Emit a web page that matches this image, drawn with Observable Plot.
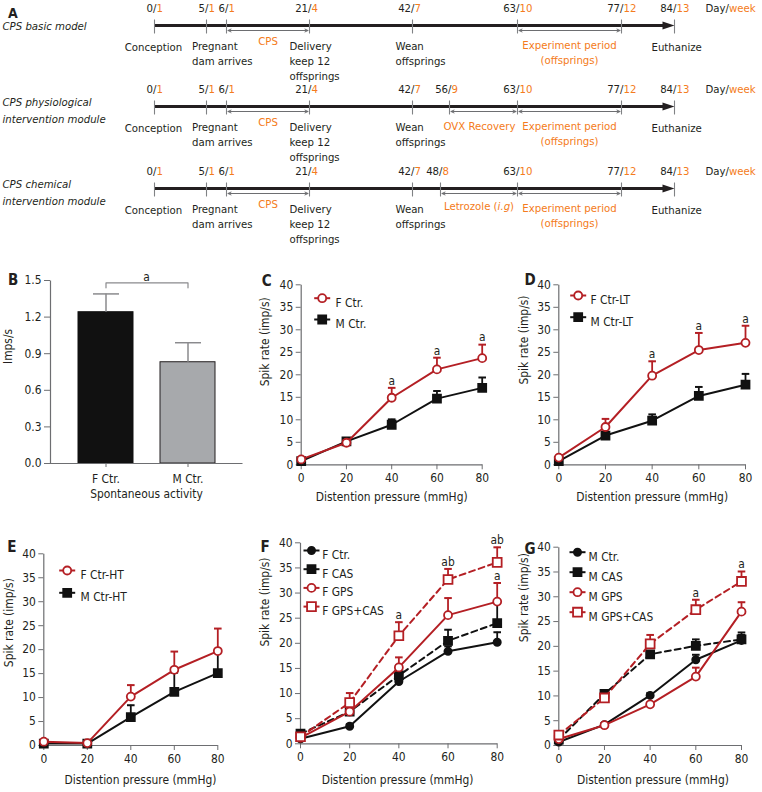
<!DOCTYPE html>
<html><head><meta charset="utf-8">
<script src="https://cdn.jsdelivr.net/npm/d3@7"></script>
<script src="https://cdn.jsdelivr.net/npm/@observablehq/plot@0.6"></script>
<style>
html,body{margin:0;padding:0;background:#fff;}
#fig{position:relative;width:762px;height:792px;overflow:hidden;background:#fff;}
</style></head><body><div id="fig"></div>
<script>
// ================= DATA =================
// Panel A: timeline
const rowTitles = ["CPS basic model", "CPS physiological\nintervention module", "CPS chemical\nintervention module"];
const allDays = [0, 5, 6, 21, 42, 48, 56, 63, 77, 84];
const allWeeks = [1, 1, 1, 4, 7, 8, 9, 10, 12, 13];
const rowDays = [
  [0, 5, 6, 21, 42, 63, 77, 84],
  [0, 5, 6, 21, 42, 56, 63, 77, 84],
  [0, 5, 6, 21, 42, 48, 63, 77, 84]
];
const rowEvents = [
  {day: 0, text: "Conception"},
  {day: 5, text: "Pregnant\ndam arrives"},
  {day: 21, text: "Delivery\nkeep 12\noffsprings"},
  {day: 42, text: "Wean\noffsprings"},
  {day: 84, text: "Euthanize"}
];
const rowPeriods = [
  [{from: 6, to: 21, text: "CPS"}, {from: 63, to: 77, text: "Experiment period\n(offsprings)"}],
  [{from: 6, to: 21, text: "CPS"}, {from: 56, to: 63, text: "OVX Recovery"}, {from: 63, to: 77, text: "Experiment period\n(offsprings)"}],
  [{from: 6, to: 21, text: "CPS"}, {from: 48, to: 63, text: "Letrozole (i.g)", italic: "i.g"}, {from: 63, to: 77, text: "Experiment period\n(offsprings)"}]
];

// Panel B
const barCats = ["F Ctr.", "M Ctr."];
const barMean = [1.24, 0.83];
const barSem = [0.15, 0.16];
const barTicks = [0, 0.3, 0.6, 0.9, 1.2, 1.5];
const barSig = {from: "F Ctr.", to: "M Ctr.", text: "a"};

// Panels C-G
const pressure = [0, 20, 40, 60, 80];
const rateTicks = [0, 5, 10, 15, 20, 25, 30, 35, 40];

const seriesC = ["F Ctr.", "M Ctr."];
const meanC = [[1.2, 4.9, 14.9, 21.2, 23.7], [0.8, 5.2, 8.9, 14.7, 17.1]];
const semC = [[0.4, 0.6, 2.2, 2.6, 3.0], [0.3, 0.6, 1.2, 1.7, 2.3]];
const sigC = [["F Ctr.", 40, "a"], ["F Ctr.", 60, "a"], ["F Ctr.", 80, "a"]];

const seriesD = ["F Ctr-LT", "M Ctr-LT"];
const meanD = [[1.6, 8.4, 19.8, 25.5, 27.1], [0.8, 6.5, 9.8, 15.3, 17.8]];
const semD = [[0.4, 1.8, 3.2, 3.8, 3.8], [0.3, 0.5, 1.4, 2.0, 2.4]];
const sigD = [["F Ctr-LT", 40, "a"], ["F Ctr-LT", 60, "a"], ["F Ctr-LT", 80, "a"]];

const seriesE = ["F Ctr-HT", "M Ctr-HT"];
const meanE = [[0.8, 0.5, 10.2, 15.8, 19.7], [0.4, 0.4, 5.9, 11.2, 15.1]];
const semE = [[0.2, 0.2, 2.4, 3.8, 4.7], [0.1, 0.1, 2.5, 4.0, 4.5]];
const sigE = [];

const seriesF = ["F Ctr.", "F CAS", "F GPS", "F GPS+CAS"];
const meanF = [[1.0, 3.5, 12.4, 18.4, 20.2], [2.0, 6.4, 13.6, 20.5, 24.0], [1.2, 6.4, 15.2, 25.6, 28.3], [1.4, 8.2, 21.5, 32.7, 36.1]];
const semF = [[0.3, 0.4, 0.8, 1.0, 2.0], [0.4, 0.6, 2.0, 2.2, 4.0], [0.3, 0.6, 2.0, 3.4, 3.7], [0.4, 1.9, 2.7, 2.1, 3.0]];
const sigF = [["F GPS+CAS", 40, "a"], ["F GPS+CAS", 60, "ab"], ["F GPS+CAS", 80, "ab"], ["F GPS", 80, "a"]];

const seriesG = ["M Ctr.", "M CAS", "M GPS", "M GPS+CAS"];
const meanG = [[0.7, 4.2, 10.1, 17.3, 21.2], [1.2, 10.4, 18.4, 20.1, 21.4], [1.3, 4.1, 8.3, 13.9, 27.0], [2.1, 9.6, 20.5, 27.4, 33.1]];
const semG = [[0.2, 0.3, 0.5, 1.0, 1.1], [0.3, 0.6, 0.5, 1.3, 1.4], [0.2, 0.3, 0.4, 1.8, 1.9], [0.3, 0.5, 1.8, 2.0, 2.0]];
const sigG = [["M GPS+CAS", 60, "a"], ["M GPS+CAS", 80, "a"]];

// ================= STYLE =================
const FONT = '"DejaVu Sans Condensed", "DejaVu Sans", sans-serif';
const TEXT = "#231f20", ORANGE = "#f47b20", RED = "#b41f24", AXIS = "#6d6e71", BLACK = "#111111", GRAYBAR = "#a7a9ac", ERRGRAY = "#8a8a8d";
const FS = 11.3;   // panel A text
const FP = 11.9;   // panels B-G text
const svgStyle = {fontFamily: FONT, fontStretch: "condensed", background: "transparent", overflow: "visible", color: TEXT};
const STYLES = {
  redCircle: {stroke: RED, fill: "white", symbol: "circle", r: 4, red: true},
  redSquareDash: {stroke: RED, fill: "white", symbol: "square", r: 5, dash: "6,4", red: true},
  blackSquare: {stroke: BLACK, fill: BLACK, symbol: "square", r: 4.5},
  blackSquareDash: {stroke: BLACK, fill: BLACK, symbol: "square", r: 4.5, dash: "6,4"},
  blackCircle: {stroke: BLACK, fill: BLACK, symbol: "circle", r: 3.6}
};
const capSym = hw => ({draw(c) { c.moveTo(-hw, 0); c.lineTo(hw, 0); }});
const vTickSym = {draw(c) { c.moveTo(0, -6); c.lineTo(0, 8); }};
const arrowHeadSym = {draw(c) { c.moveTo(0, 0); c.lineTo(-12, -4); c.lineTo(-12, 4); c.closePath(); }};

const fig = document.getElementById("fig");
function add(svg, left, top) {
  svg.style.position = "absolute";
  svg.style.left = left + "px";
  svg.style.top = top + "px";
  svg.style.maxWidth = "none";
  fig.appendChild(svg);
}
function measure(str, italic) {
  const s = d3.select("body").append("svg").attr("style", `position:absolute;left:-9999px;font-family:${FONT};font-stretch:condensed`);
  const t = s.append("text").attr("font-size", FS).attr("font-style", italic ? "italic" : "normal").text(str);
  const w = t.node().getComputedTextLength();
  s.remove();
  return w;
}

// ================= PANEL A =================
const DAYPX = {0: 154, 5: 206, 6: 226, 21: 309, 42: 412, 48: 440, 56: 449, 63: 517, 77: 621, 84: 674};
const EVLAYOUT = {
  "Conception": {anchor: "middle", dx: -1, dy: 15.2},
  "Pregnant\ndam arrives": {anchor: "start", dx: -14.5, dy: 13.6},
  "Delivery\nkeep 12\noffsprings": {anchor: "start", dx: -20, dy: 13.6},
  "Wean\noffsprings": {anchor: "start", dx: -17, dy: 13.6},
  "Euthanize": {anchor: "start", dx: -23, dy: 14.6}
};
const PERDX = {"OVX Recovery": -4};
function timelineRow(r, top) {
  const days = rowDays[r];
  const ticks = days.map(d => ({d, w: allWeeks[allDays.indexOf(d)]}));
  const pers = rowPeriods[r].map(p => ({...p, mid: (p.from + p.to) / 2}));
  const arrows = pers.flatMap(p => [{a: p.mid, b: p.from}, {a: p.mid, b: p.to}]);
  const multi = rowTitles[r].includes("\n");
  const marks = [
    Plot.text([rowTitles[r]], {frameAnchor: "left", y: 0, text: d => d, textAnchor: "start", dx: 2,
      lineAnchor: multi ? "top" : "middle", dy: multi ? -12 : -1, lineHeight: 1.48,
      fontStyle: "italic", fill: TEXT, fontSize: FS}),
    Plot.ruleY([0], {x1: 0, x2: 84, stroke: TEXT, strokeWidth: 3, insetRight: 8}),
    Plot.dot([84], {x: d => d, y: 0, symbol: arrowHeadSym, fill: TEXT, stroke: "none"}),
    Plot.dot(ticks, {x: "d", y: 0, symbol: vTickSym, stroke: "#808285", strokeWidth: 1.1, fill: "none"}),
    Plot.text(ticks, {x: "d", y: 0, text: t => `${t.d}/`, textAnchor: "end", dx: 2, dy: -17, fill: TEXT, fontSize: FS}),
    Plot.text(ticks, {x: "d", y: 0, text: t => `${t.w}`, textAnchor: "start", dx: 2, dy: -17, fill: ORANGE, fontSize: FS}),
    Plot.text(["Day/"], {x: () => 84, y: 0, text: d => d, textAnchor: "end", dx: 54.5, dy: -17, fill: TEXT, fontSize: FS}),
    Plot.text(["week"], {x: () => 84, y: 0, text: d => d, textAnchor: "start", dx: 54.5, dy: -17, fill: ORANGE, fontSize: FS}),
    Plot.arrow(arrows, {x1: "a", x2: "b", y1: 0, y2: 0, dy: 5, stroke: "#6d6e71", strokeWidth: 1, headLength: 5, headAngle: 50, insetEnd: 1.5})
  ];
  for (const e of rowEvents) {
    const s = EVLAYOUT[e.text];
    marks.push(Plot.text([e], {x: "day", y: 0, text: "text", textAnchor: s.anchor, dx: s.dx, dy: s.dy,
      lineAnchor: "top", lineHeight: 1.32, fill: TEXT, fontSize: FS}));
  }
  for (const p of pers) {
    const dy = p.text === "CPS" ? 9.4 : 13.1;
    const pdx = PERDX[p.text] || 0;
    if (p.italic) {
      const i0 = p.text.indexOf(p.italic);
      const parts = [[p.text.slice(0, i0), false], [p.italic, true], [p.text.slice(i0 + p.italic.length), false]];
      const ws = parts.map(([s, it]) => measure(s, it));
      let acc = -d3.sum(ws) / 2 + pdx;
      parts.forEach(([s, it], k) => {
        marks.push(Plot.text([p], {x: "mid", y: 0, text: () => s, textAnchor: "start", dx: acc, dy,
          lineAnchor: "top", fontStyle: it ? "italic" : "normal", fill: ORANGE, fontSize: FS}));
        acc += ws[k];
      });
    } else {
      marks.push(Plot.text([p], {x: "mid", y: 0, text: "text", dx: pdx, dy, lineAnchor: "top", lineHeight: 1.32, fill: ORANGE, fontSize: FS}));
    }
  }
  if (r === 0) marks.push(Plot.text(["A"], {frameAnchor: "top-left", text: d => d, dx: 7.5, dy: 8, fontWeight: "bold", fontSize: 14, fill: TEXT}));
  const svg = Plot.plot({
    width: 762, height: 82, margin: 0, axis: null,
    x: {type: "linear", domain: days, range: days.map(d => DAYPX[d])},
    y: {domain: [0, 1], range: [25, 26]},
    style: svgStyle, marks
  });
  add(svg, 0, top);
}
timelineRow(0, 0);
timelineRow(1, 81);
timelineRow(2, 163);

// ================= PANEL B =================
(function barPanel() {
  const left = 0, top = 262, width = 250, height = 248;
  const X0 = 50, X1 = 242, Y0 = 280, Y1 = 463;
  const fw = X1 - X0, fh = Y1 - Y0;
  const d = barCats.map((c, i) => ({c, i, m: barMean[i], t: barMean[i] + barSem[i]}));
  const bTop = d3.max(d, q => q.t) + 0.09;
  const bracket = [{c: barSig.from, y: bTop - 0.04}, {c: barSig.from, y: bTop}, {c: barSig.to, y: bTop}, {c: barSig.to, y: bTop - 0.04}];
  const svg = Plot.plot({
    width, height,
    marginLeft: X0 - left, marginRight: left + width - X1, marginTop: Y0 - top, marginBottom: top + height - Y1,
    x: {domain: barCats, padding: 0.335},
    y: {domain: [0, 1.5]},
    style: svgStyle,
    marks: [
      Plot.barY(d.filter(q => q.i === 0), {x: "c", y: "m", fill: BLACK, stroke: BLACK, strokeWidth: 1}),
      Plot.barY(d.filter(q => q.i === 1), {x: "c", y: "m", fill: GRAYBAR, stroke: TEXT, strokeWidth: 1}),
      Plot.ruleX(d, {x: "c", y1: "m", y2: "t", stroke: ERRGRAY, strokeWidth: 1.5}),
      Plot.dot(d, {x: "c", y: "t", symbol: capSym(13), stroke: ERRGRAY, strokeWidth: 1.5, fill: "none"}),
      Plot.frame({stroke: AXIS, strokeWidth: 1.2, strokeDasharray: `0 ${fw + fh} ${fw + fh}`}),
      Plot.axisY({ticks: barTicks, tickFormat: v => v.toFixed(1), tickSize: 6, tickPadding: 3, fontSize: FP, stroke: AXIS, fill: TEXT, label: null}),
      Plot.axisX({tickSize: 4, tickPadding: 7, fontSize: FP, stroke: AXIS, fill: TEXT, label: null}),
      Plot.line(bracket, {x: "c", y: "y", stroke: ERRGRAY, strokeWidth: 1.2}),
      Plot.text([barSig], {frameAnchor: "top", y: () => bTop, text: "text", dy: -10, fill: TEXT, fontSize: FP}),
      Plot.text(["B"], {frameAnchor: "top-left", text: d => d, dx: -42.5, dy: -6, fontWeight: "bold", fontSize: 15, fill: TEXT}),
      Plot.text(["Imps/s"], {frameAnchor: "left", text: d => d, rotate: -90, dx: -42, dy: -8, fill: TEXT, fontSize: FP}),
      Plot.text(["Spontaneous activity"], {frameAnchor: "bottom", text: d => d, dy: 34, fill: TEXT, fontSize: FP})
    ]
  });
  add(svg, left, top);
})();

// ================= PANELS C-G =================
function linePanel(cfg, names, means, sems, styleKeys, sigs) {
  const [X0, X1] = cfg.fx, [Y0, Y1] = cfg.fy;
  const fw = X1 - X0, fh = Y1 - Y0;
  const st = styleKeys.map(k => STYLES[k]);
  const pts = names.flatMap((name, si) => pressure.map((x, i) => ({name, si, x, m: means[si][i], t: means[si][i] + sems[si][i]})));
  const order = names.map((_, i) => i).sort((a, b) => (st[a].red ? 1 : 0) - (st[b].red ? 1 : 0));
  const marks = [
    Plot.frame({stroke: AXIS, strokeWidth: 1.2, strokeDasharray: `0 ${fw + fh} ${fw + fh}`}),
    Plot.axisX({ticks: pressure, tickSize: 5, tickPadding: 4, fontSize: FP, stroke: AXIS, fill: TEXT, label: null}),
    Plot.axisY({ticks: rateTicks, tickSize: 5, tickPadding: 3, fontSize: FP, stroke: AXIS, fill: TEXT, label: null})
  ];
  for (const si of order) {
    const s = st[si];
    const d = pts.filter(q => q.si === si);
    marks.push(Plot.line(d, {x: "x", y: "m", stroke: s.stroke, strokeWidth: 2, strokeDasharray: s.dash}));
    marks.push(Plot.ruleX(d, {x: "x", y1: "m", y2: "t", stroke: s.stroke, strokeWidth: 1.8}));
    marks.push(Plot.dot(d, {x: "x", y: "t", symbol: capSym(3.8), stroke: s.stroke, strokeWidth: 2, fill: "none"}));
    marks.push(Plot.dot(d, {x: "x", y: "m", symbol: s.symbol, r: s.r, fill: s.fill, stroke: s.stroke, strokeWidth: 1.8}));
  }
  const sigRows = sigs.map(([name, x, text]) => ({...pts.find(q => q.name === name && q.x === x), text}));
  marks.push(Plot.text(sigRows, {x: "x", y: "t", text: "text", dy: -7, fill: TEXT, fontSize: FP}));
  // legend
  names.forEach((name, i) => {
    const s = st[i];
    const ly = cfg.legend.y0 + i * cfg.legend.gap;
    marks.push(Plot.dot([name], {frameAnchor: "top-left", dx: cfg.legend.mx, dy: ly, symbol: capSym(8), stroke: s.stroke, strokeWidth: 2, fill: "none"}));
    marks.push(Plot.dot([name], {frameAnchor: "top-left", dx: cfg.legend.mx, dy: ly, symbol: s.symbol, r: s.r, fill: s.fill, stroke: s.stroke, strokeWidth: 1.8}));
    marks.push(Plot.text([name], {frameAnchor: "top-left", dx: cfg.legend.tx, dy: ly, text: d => d, textAnchor: "start", fill: TEXT, fontSize: FP}));
  });
  marks.push(Plot.text([cfg.letter], {frameAnchor: "top-left", text: d => d, dx: cfg.letterPos[0], dy: cfg.letterPos[1], fontWeight: "bold", fontSize: 15, fill: TEXT}));
  marks.push(Plot.text(["Spik rate (imp/s)"], {frameAnchor: "left", text: d => d, rotate: -90, dx: cfg.ylab[0], dy: cfg.ylab[1], fill: TEXT, fontSize: FP}));
  marks.push(Plot.text(["Distention pressure (mmHg)"], {frameAnchor: "bottom", text: d => d, dx: cfg.xlab[0], dy: cfg.xlab[1], fill: TEXT, fontSize: FP}));
  const svg = Plot.plot({
    width: cfg.width, height: cfg.height,
    marginLeft: X0 - cfg.left, marginRight: cfg.left + cfg.width - X1, marginTop: Y0 - cfg.top, marginBottom: cfg.top + cfg.height - Y1,
    x: {domain: [0, 80]}, y: {domain: [0, 40]},
    style: svgStyle, marks
  });
  add(svg, cfg.left, cfg.top);
}

linePanel({left: 250, top: 262, width: 255, height: 255, fx: [300.7, 481.7], fy: [284.3, 464.3], letter: "C",
  letterPos: [-39.5, -9.5], ylab: [-35.7, 11.5], xlab: [0, 36.2], legend: {mx: 21, tx: 34.3, y0: 13.4, gap: 21.3}},
  seriesC, meanC, semC, ["redCircle", "blackSquare"], sigC);
linePanel({left: 505, top: 262, width: 257, height: 255, fx: [558.3, 745], fy: [284.3, 464.3], letter: "D",
  letterPos: [-34.3, -10.3], ylab: [-35, 9.7], xlab: [0, 36.2], legend: {mx: 19.4, tx: 31.7, y0: 10.7, gap: 21.7}},
  seriesD, meanD, semD, ["redCircle", "blackSquare"], sigD);
linePanel({left: 0, top: 515, width: 250, height: 277, fx: [43.3, 217.3], fy: [553.3, 745], letter: "E",
  letterPos: [-36.6, -12.6], ylab: [-35, 17.5], xlab: [9.7, 38.3], legend: {mx: 23.4, tx: 36.7, y0: 16.7, gap: 22.3}},
  seriesE, meanE, semE, ["redCircle", "blackSquare"], sigE);
linePanel({left: 250, top: 515, width: 255, height: 277, fx: [300, 496.7], fy: [542.3, 743.3], letter: "F",
  letterPos: [-40, -1], ylab: [-35, 3.2], xlab: [-1.3, 40], legend: {mx: 11, tx: 21.7, y0: 7.7, gap: 18.7}},
  seriesF, meanF, semF, ["blackCircle", "blackSquareDash", "redCircle", "redSquareDash"], sigF);
linePanel({left: 505, top: 515, width: 257, height: 277, fx: [558.3, 741], fy: [546.7, 745], letter: "G",
  letterPos: [-34.3, -4], ylab: [-35, -4.2], xlab: [2.8, 38], legend: {mx: 18.7, tx: 29.7, y0: 5, gap: 20}},
  seriesG, meanG, semG, ["blackCircle", "blackSquareDash", "redCircle", "redSquareDash"], sigG);
</script>
</body></html>
